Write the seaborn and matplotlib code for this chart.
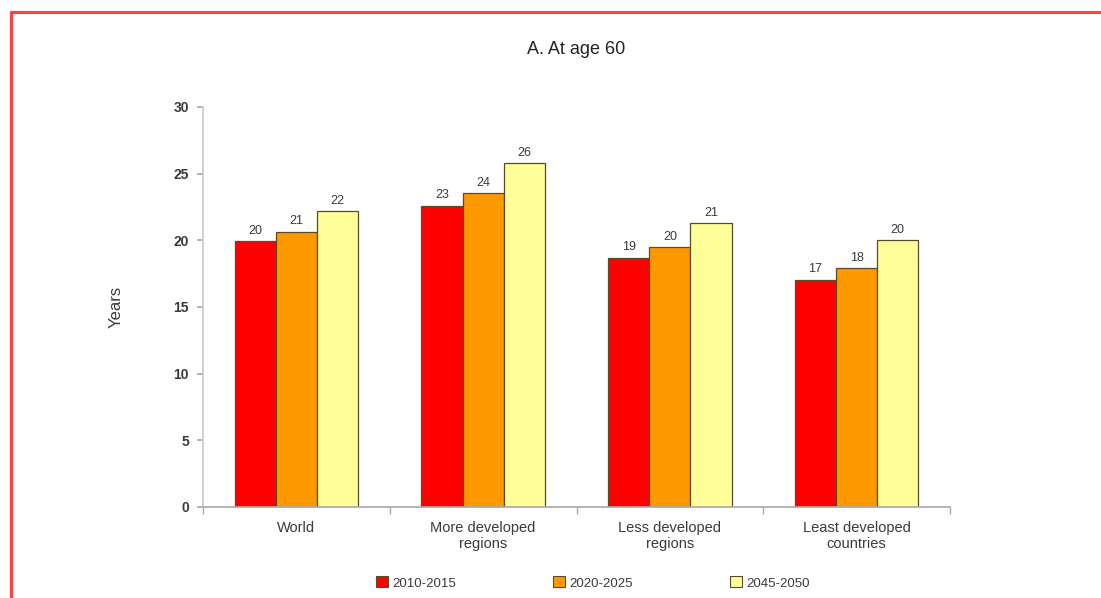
import matplotlib
matplotlib.use("Agg")
import matplotlib.pyplot as plt
import numpy as np
import pandas as pd
import seaborn as sns
from matplotlib.lines import Line2D

REGIONS = ["World", "More developed\nregions", "Less developed\nregions", "Least developed\ncountries"]
PERIODS = ["2010-2015", "2020-2025", "2045-2050"]
YEARS_2010 = [19.95, 22.6, 18.7, 17.05]
YEARS_2020 = [20.65, 23.55, 19.5, 17.9]
YEARS_2045 = [22.2, 25.8, 21.3, 20.0]
LABELS_2010 = ["20", "23", "19", "17"]
LABELS_2020 = ["21", "24", "20", "18"]
LABELS_2045 = ["22", "26", "21", "20"]
COLORS = ["#ff0000", "#ff9900", "#ffff99"]

data = pd.DataFrame(
    {
        "region": REGIONS * 3,
        "period": [p for p in PERIODS for _ in REGIONS],
        "years": YEARS_2010 + YEARS_2020 + YEARS_2045,
    }
)

sns.set_theme(style="white")
plt.rcParams["font.family"] = ["Liberation Sans", "DejaVu Sans"]
text_color = "#3a3a3a"

fig = plt.figure(figsize=(11.01, 5.98), dpi=100)
ax = fig.add_axes([203 / 1101, 1 - 507 / 598, 747 / 1101, 400 / 598])

sns.barplot(
    data=data,
    x="region",
    y="years",
    hue="period",
    hue_order=PERIODS,
    palette=COLORS,
    saturation=1,
    width=0.66,
    gap=0,
    edgecolor="#5a4a2a",
    linewidth=0.9,
    ax=ax,
)

for container, labels in zip(ax.containers, [LABELS_2010, LABELS_2020, LABELS_2045]):
    ax.bar_label(container, labels=labels, padding=3, fontsize=9, color=text_color)

ax.set_ylim(0, 30)
ax.set_yticks(range(0, 31, 5))
ax.set_xlim(-0.5, len(REGIONS) - 0.5)
ax.set_xlabel("")
ax.set_ylabel("Years", fontsize=12, color=text_color, labelpad=36)
ax.set_title("A. At age 60", fontsize=13, color="#222222", pad=38)

for side in ["top", "right"]:
    ax.spines[side].set_visible(False)
ax.spines["left"].set_color("#cccccc")
ax.spines["bottom"].set_color("#aaaaaa")

ax.tick_params(axis="y", left=True, length=4, color="#aaaaaa", labelsize=10, labelcolor=text_color, pad=6)
for lbl in ax.get_yticklabels():
    lbl.set_fontweight("bold")
ax.tick_params(axis="x", which="major", length=0, labelsize=10.5, labelcolor=text_color, pad=10)
ax.set_xticks(np.arange(-0.5, len(REGIONS), 1), minor=True)
ax.tick_params(axis="x", which="minor", bottom=True, length=5, color="#aaaaaa")

ax.get_legend().remove()
handles = [
    plt.Rectangle((0, 0), 1, 1, facecolor=c, edgecolor="#5a4a2a", linewidth=0.8) for c in COLORS
]
fig.legend(
    handles,
    PERIODS,
    loc="center",
    bbox_to_anchor=(593 / 1101, 1 - 583 / 598),
    ncol=3,
    frameon=False,
    fontsize=9.5,
    handlelength=0.9,
    handleheight=0.9,
    handletextpad=0.3,
    columnspacing=7.4,
    labelcolor=text_color,
)

# red frame on the left and top edges
fig.add_artist(Line2D([11 / 1101, 1.0], [1 - 12 / 598, 1 - 12 / 598], color="#ff4040", linewidth=2.2, transform=fig.transFigure))
fig.add_artist(Line2D([11 / 1101, 11 / 1101], [0, 1 - 12 / 598], color="#ff4040", linewidth=2.2, transform=fig.transFigure))

fig.savefig("out.png", dpi=100)
